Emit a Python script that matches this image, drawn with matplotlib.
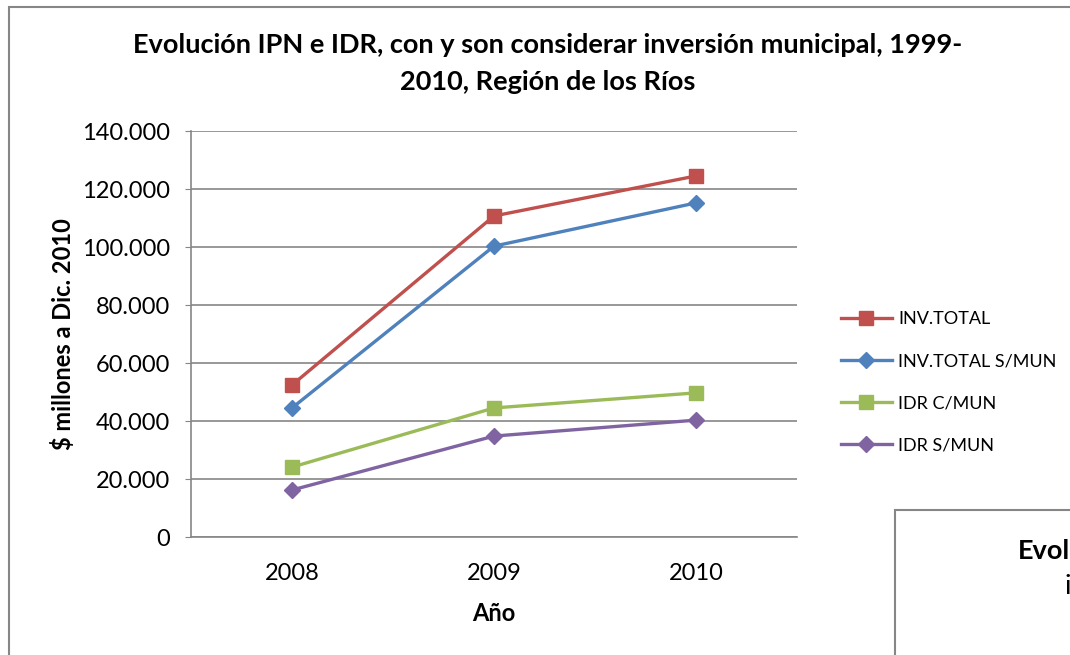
import matplotlib
matplotlib.use("Agg")
import matplotlib.pyplot as plt
from matplotlib.patches import Rectangle
from matplotlib.ticker import FuncFormatter

plt.rcParams['font.family'] = ['Lato', 'DejaVu Sans']

years = ['2008', '2009', '2010']
inv_total = [52400, 110700, 124500]
inv_total_smun = [44500, 100300, 115200]
idr_cmun = [24100, 44500, 49700]
idr_smun = [16200, 34800, 40300]
series_names = ['INV.TOTAL', 'INV.TOTAL S/MUN', 'IDR C/MUN', 'IDR S/MUN']
yticks = [0, 20000, 40000, 60000, 80000, 100000, 120000, 140000]

W, H = 1070, 655
fig = plt.figure(figsize=(W / 100, H / 100), dpi=100)
fig.patch.set_facecolor('white')

gray = '#868686'
# outer chart border
fig.add_artist(Rectangle((9 / W, -0.1), 1.2, 1 - 7 / H + 0.1, transform=fig.transFigure,
                         fill=False, edgecolor=gray, linewidth=1.5, zorder=0))

ax = fig.add_axes([191 / W, 1 - 537 / H, (797 - 191) / W, (537 - 131) / H])
x = list(range(len(years)))
styles = [
    (inv_total, '#C0504D', 's', 10.5),
    (inv_total_smun, '#4F81BD', 'D', 8),
    (idr_cmun, '#9BBB59', 's', 10.5),
    (idr_smun, '#8064A2', 'D', 8),
]
for (vals, col, mk, ms), name in zip(styles, series_names):
    ax.plot(x, vals, color=col, linewidth=2.4, marker=mk, markersize=ms,
            markerfacecolor=col, markeredgecolor=col, label=name, zorder=3)

ax.set_xlim(-0.5, 2.5)
ax.set_ylim(0, 140000)
ax.set_yticks(yticks)
ax.yaxis.set_major_formatter(FuncFormatter(lambda v, p: f"{int(v):,}".replace(',', '.')))
ax.set_xticks(x)
ax.set_xticklabels(years)
ax.grid(axis='y', color=gray, linewidth=1.2, zorder=0)
ax.set_axisbelow(True)
for s in ['top', 'right']:
    ax.spines[s].set_visible(False)
for s in ['left', 'bottom']:
    ax.spines[s].set_color(gray)
    ax.spines[s].set_linewidth(1.2)
ax.tick_params(axis='y', length=4, color=gray, labelsize=17, pad=11)
ax.tick_params(axis='x', length=0, labelsize=17, pad=18.5)
ax.set_xlabel('Año', fontsize=17, fontweight='bold', labelpad=13)
ax.set_ylabel('$ millones a Dic. 2010', fontsize=17, fontweight='bold', labelpad=5)

fig.text(548 / W, 1 - 45 / H,
         'Evolución IPN e IDR, con y son considerar inversión municipal, 1999-',
         ha='center', va='center', fontsize=19.5, fontweight='bold')
fig.text(548 / W, 1 - 82 / H, '2010, Región de los Ríos',
         ha='center', va='center', fontsize=19.5, fontweight='bold')

leg = ax.legend(loc='upper left', bbox_to_anchor=(832 / W, 1 - 302 / H),
                bbox_transform=fig.transFigure, frameon=False, fontsize=13,
                handlelength=2.8, labelspacing=1.45, handletextpad=0.35, borderpad=0)

# second (overlapping) chart box
fig.add_artist(Rectangle((895 / W, -0.1), 1.2, 1 - 510 / H + 0.1, transform=fig.transFigure,
                         facecolor='white', edgecolor=gray, linewidth=1.5, zorder=5))
fig.text(1018 / W, 1 - 551 / H, 'Evol', ha='left', va='center',
         fontsize=19.5, fontweight='bold', zorder=6)
fig.text(1064 / W, 1 - 587 / H, 'i', ha='left', va='center',
         fontsize=19.5, zorder=6)

fig.savefig('out.png', dpi=100, facecolor='white')
